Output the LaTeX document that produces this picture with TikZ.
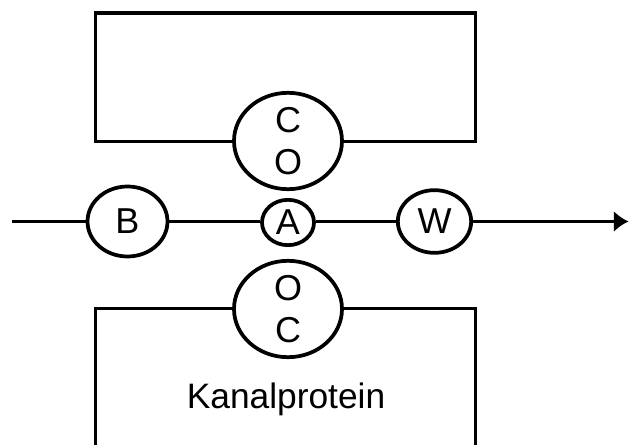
\documentclass[tikz,border=0pt]{standalone}
\usepackage{fontspec}
\setmainfont{Liberation Sans}
\usetikzlibrary{shapes.geometric,arrows.meta}

\begin{document}
\begin{tikzpicture}[x=0.75pt,y=0.75pt,yscale=-1,xscale=1,line width=2.8pt,
    blob/.style={draw,ellipse,fill=white,inner sep=0pt,align=center,font=\fontsize{27}{32}\selectfont}]
    \useasboundingbox (0,0) rectangle (629,445);

    %Shape: Rectangle [top box]
    \draw (95.5,13) rectangle (475.5,141.5);
    %Shape: open box [bottom, Kanalprotein]
    \draw (95.5,450) -- (95.5,308.5) -- (475.5,308.5) -- (475.5,450);

    % Ellipse Nodes
    \node [blob, minimum width=81pt, minimum height=72pt] (co) at (288,141) {C\\O};
    \node [blob, minimum width=81pt, minimum height=72pt] (oc) at (288,309) {O\\C};
    \node [blob, minimum width=60pt, minimum height=52.5pt] (b) at (127.5,221.5) {B};
    \node [blob, minimum width=39pt, minimum height=34pt] (a) at (288,222.5) {A};
    \node [blob, minimum width=55pt, minimum height=47pt] (w) at (434.5,221.5) {W};

    % Path
    \coordinate (start) at (12,221.5);
    \coordinate (end) at (628.5,221.5);
    \draw (start) -- (b.west);
    \draw (b.east) -- (a.west |- b.east);
    \draw (a.east |- w.west) -- (w.west);
    \draw [-{Latex[length=11pt,width=16pt]}] (w.east) -- (end);

    % Text Node
    \node [anchor=base, inner sep=0pt, font=\fontsize{26.5}{32}\selectfont] (kanal) at (286,408.5) {Kanalprotein};
\end{tikzpicture}
\end{document}
